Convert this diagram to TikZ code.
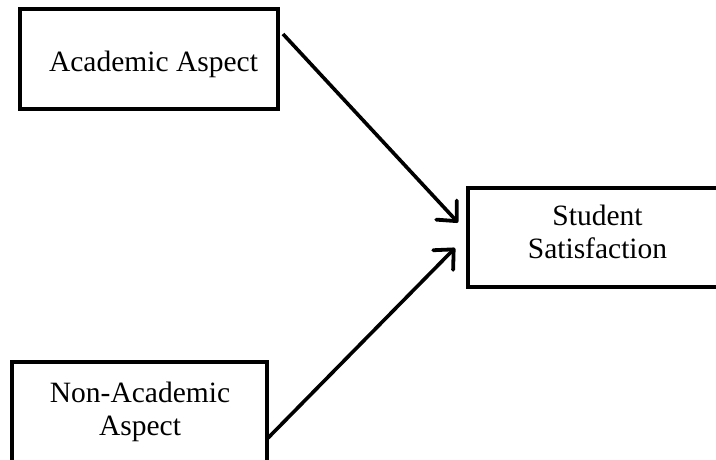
\documentclass[tikz,border=0pt]{standalone}
\usepackage{fontspec}
\setmainfont{Liberation Serif}
\usetikzlibrary{arrows.meta,calc}
\tikzset{
  boxnode/.style={draw=black, line width=3.4pt, fill=white, inner sep=0pt, outer sep=0pt, anchor=north west},
  txtnode/.style={inner sep=0pt, align=center, font=\fontsize{29.5}{33}\selectfont},
  link/.style={line width=3.6pt, -{Straight Barb[length=15pt,width=28pt,line width=3.8pt,round]}}
}
\begin{document}
\begin{tikzpicture}[x=1pt,y=-1pt]
\useasboundingbox (0,0) rectangle (716,459);
\clip (0,0) rectangle (716,459);
\node[boxnode, minimum width=258pt, minimum height=100pt] (acad) at (20,9) {};
\node[boxnode, minimum width=260pt, minimum height=99pt] (stud) at (468,188) {};
\node[boxnode, minimum width=255pt, minimum height=120pt] (nonacad) at (12,362) {};
\node[txtnode, anchor=base] (acadtxt) at (153.5,71) {Academic Aspect};
\node[txtnode] (studtxt) at (597.5,231.5) {Student\\Satisfaction};
\node[txtnode] (nonacadtxt) at (140,411.5) {Non-Academic\\Aspect};
\coordinate (a1) at ($(acad.north east)+(5,25)$);
\coordinate (a2) at ($(stud.west)+(-10,-15)$);
\coordinate (b1) at ($(nonacad.east)+(1,16)$);
\coordinate (b2) at ($(stud.west)+(-13,10.5)$);
\draw[link] (a1) -- (a2);
\draw[link] (b1) -- (b2);
\end{tikzpicture}
\end{document}
